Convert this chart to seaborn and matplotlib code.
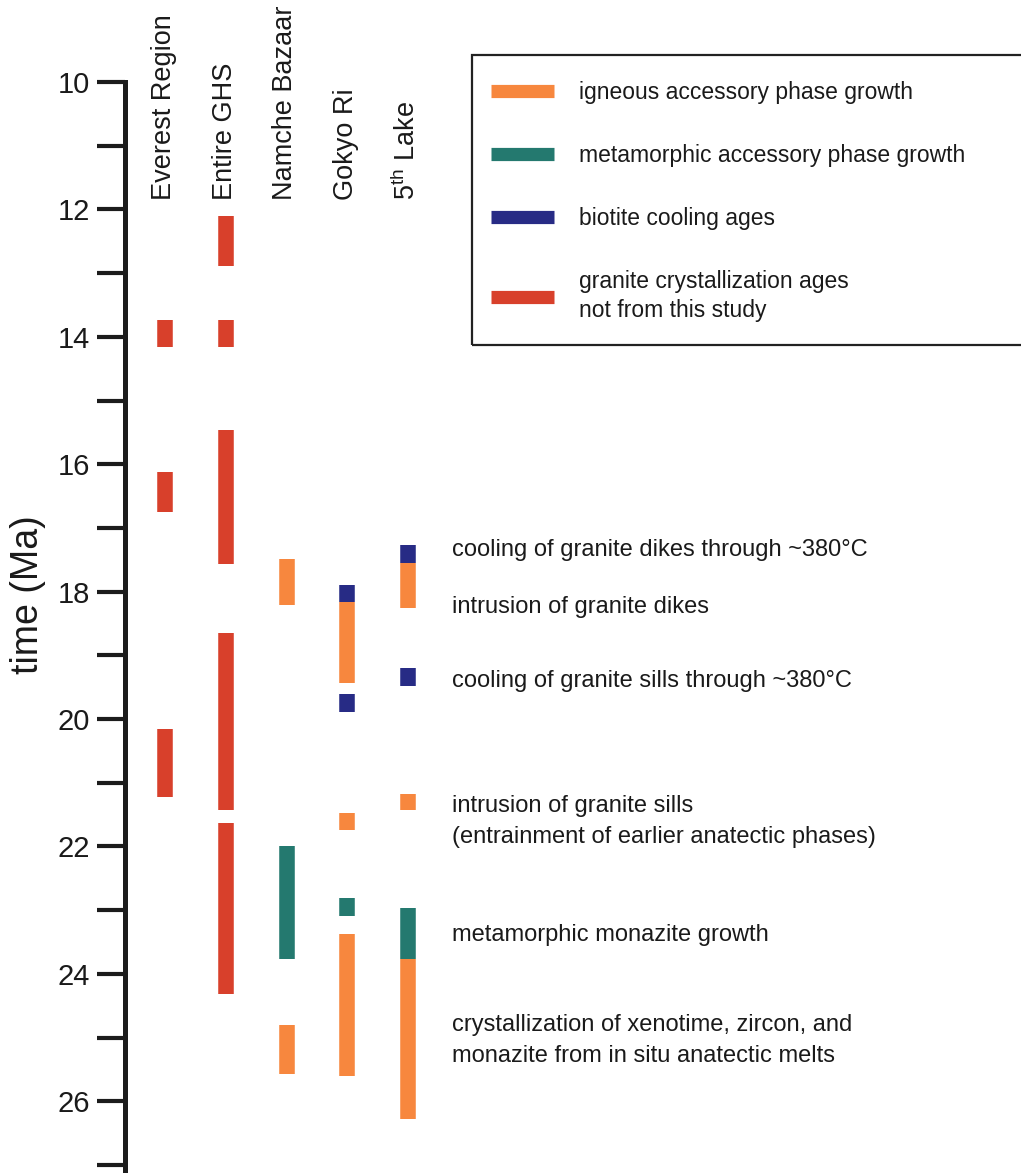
import matplotlib
matplotlib.use("Agg")
import matplotlib.pyplot as plt
from matplotlib.lines import Line2D
from matplotlib.patches import Rectangle
import pandas as pd
import seaborn as sns

# Sample localities (columns, left to right)
columns = ["Everest Region", "Entire GHS", "Namche Bazaar", "Gokyo Ri", "5$^{\\mathrm{th}}$ Lake"]

# Age ranges (Ma) for each dated interval
seg_column = [0, 0, 0,
              1, 1, 1, 1, 1,
              2, 2, 2,
              3, 3, 3, 3, 3, 3,
              4, 4, 4, 4, 4, 4]
seg_kind = ["granite", "granite", "granite",
            "granite", "granite", "granite", "granite", "granite",
            "igneous", "metamorphic", "igneous",
            "biotite", "igneous", "biotite", "igneous", "metamorphic", "igneous",
            "biotite", "igneous", "biotite", "igneous", "metamorphic", "igneous"]
seg_start = [13.74, 16.13, 20.16,
             12.10, 13.74, 15.47, 18.65, 21.63,
             17.49, 21.99, 24.80,
             17.90, 18.17, 19.61, 21.48, 22.81, 23.37,
             17.27, 17.55, 19.20, 21.18, 22.97, 23.77]
seg_end = [14.16, 16.75, 21.22,
           12.89, 14.16, 17.57, 21.43, 24.32,
           18.21, 23.77, 25.57,
           18.17, 19.44, 19.89, 21.74, 23.09, 25.60,
           17.55, 18.26, 19.48, 21.43, 23.77, 26.28]

kinds = ["igneous", "metamorphic", "biotite", "granite"]
kind_labels = ["igneous accessory phase growth",
               "metamorphic accessory phase growth",
               "biotite cooling ages",
               "granite crystallization ages\nnot from this study"]
kind_colors = ["#f7873e", "#24796f", "#272b85", "#d8402b"]

# Interpretive notes and the age (Ma) at which each is written
note_text = ["cooling of granite dikes through ~380°C",
             "intrusion of granite dikes",
             "cooling of granite sills through ~380°C",
             "intrusion of granite sills\n(entrainment of earlier anatectic phases)",
             "metamorphic monazite growth",
             "crystallization of xenotime, zircon, and\nmonazite from in situ anatectic melts"]
note_age = [17.35, 18.24, 19.40, 21.61, 23.39, 25.05]

y_ticks = list(range(10, 28))
y_ticklabels = [str(v) if (v % 2 == 0 and v <= 26) else "" for v in y_ticks]

# ---------------------------------------------------------------------------
rows = []
for i, (c, k, s, e) in enumerate(zip(seg_column, seg_kind, seg_start, seg_end)):
    rows.append({"pos": c, "age": s, "kind": k, "seg": i})
    rows.append({"pos": c, "age": e, "kind": k, "seg": i})
df = pd.DataFrame(rows)

sns.set_style("ticks")
plt.rcParams["font.family"] = ["Liberation Sans", "DejaVu Sans"]
plt.rcParams["mathtext.fontset"] = "custom"
plt.rcParams["mathtext.rm"] = "Liberation Sans"
plt.rcParams["mathtext.it"] = "Liberation Sans:italic"
plt.rcParams["mathtext.bf"] = "Liberation Sans:bold"
plt.rcParams["lines.solid_capstyle"] = "butt"

TXT = "#1a1a1a"
W, H = 1021, 1173
fig = plt.figure(figsize=(W / 100, H / 100), dpi=100)
ax = fig.add_axes([125 / W, 0, (W - 125) / W, (H - 82) / H])

palette = dict(zip(kinds, kind_colors))
sns.lineplot(data=df, x="pos", y="age", hue="kind", units="seg",
             estimator=None, sort=False, palette=palette, hue_order=kinds,
             linewidth=11.2, legend=False, ax=ax, solid_capstyle="butt")

# scales: ~63.7 px per Myr vertically, ~60.75 px per column horizontally
px_y = 63.7
px_x = 60.75
ax.set_ylim(10 + (H - 82) / px_y, 10)
ax.set_xlim(-(165 - 125) / px_x, (W - 165) / px_x)

for s in ["top", "right", "bottom"]:
    ax.spines[s].set_visible(False)
ax.spines["left"].set_linewidth(3.6)
ax.spines["left"].set_color("#1c1c1c")
ax.set_xticks([])
ax.set_yticks(y_ticks)
ax.set_yticklabels(y_ticklabels)
ax.tick_params(axis="y", length=20, width=3, pad=5, labelsize=21,
               color="#1c1c1c", labelcolor=TXT)
ax.set_xlabel("")
ax.set_ylabel("")

fig.text(28 / W, 1 - 595 / H, "time (Ma)", rotation=90, ha="center",
         va="center", fontsize=27, color=TXT)

for i, name in enumerate(columns):
    ax.text(i - 0.02, 11.85, name, rotation=90, ha="center", va="bottom",
            fontsize=19.5, color=TXT)

for t, a in zip(note_text, note_age):
    ax.text(4.72, a, t, ha="left", va="center", fontsize=17, color=TXT,
            linespacing=1.5)

handles = [Line2D([], [], color=c, lw=9.5, solid_capstyle="butt")
           for c in kind_colors]
leg = fig.legend(handles, kind_labels, loc="upper left",
                 bbox_to_anchor=(491 / W, 1 - 81 / H), frameon=False,
                 fontsize=16.5, handlelength=2.75, handletextpad=1.1,
                 labelspacing=1.75, borderpad=0, borderaxespad=0,
                 labelcolor=TXT)
for txt in leg.get_texts():
    txt.set_linespacing(1.3)
fig.add_artist(Rectangle((472 / W, 1 - 345 / H), (1035 - 472) / W,
                         (345 - 55) / H, transform=fig.transFigure,
                         fill=False, lw=1.6, ec="#222222"))

fig.savefig("out.png", dpi=100)
